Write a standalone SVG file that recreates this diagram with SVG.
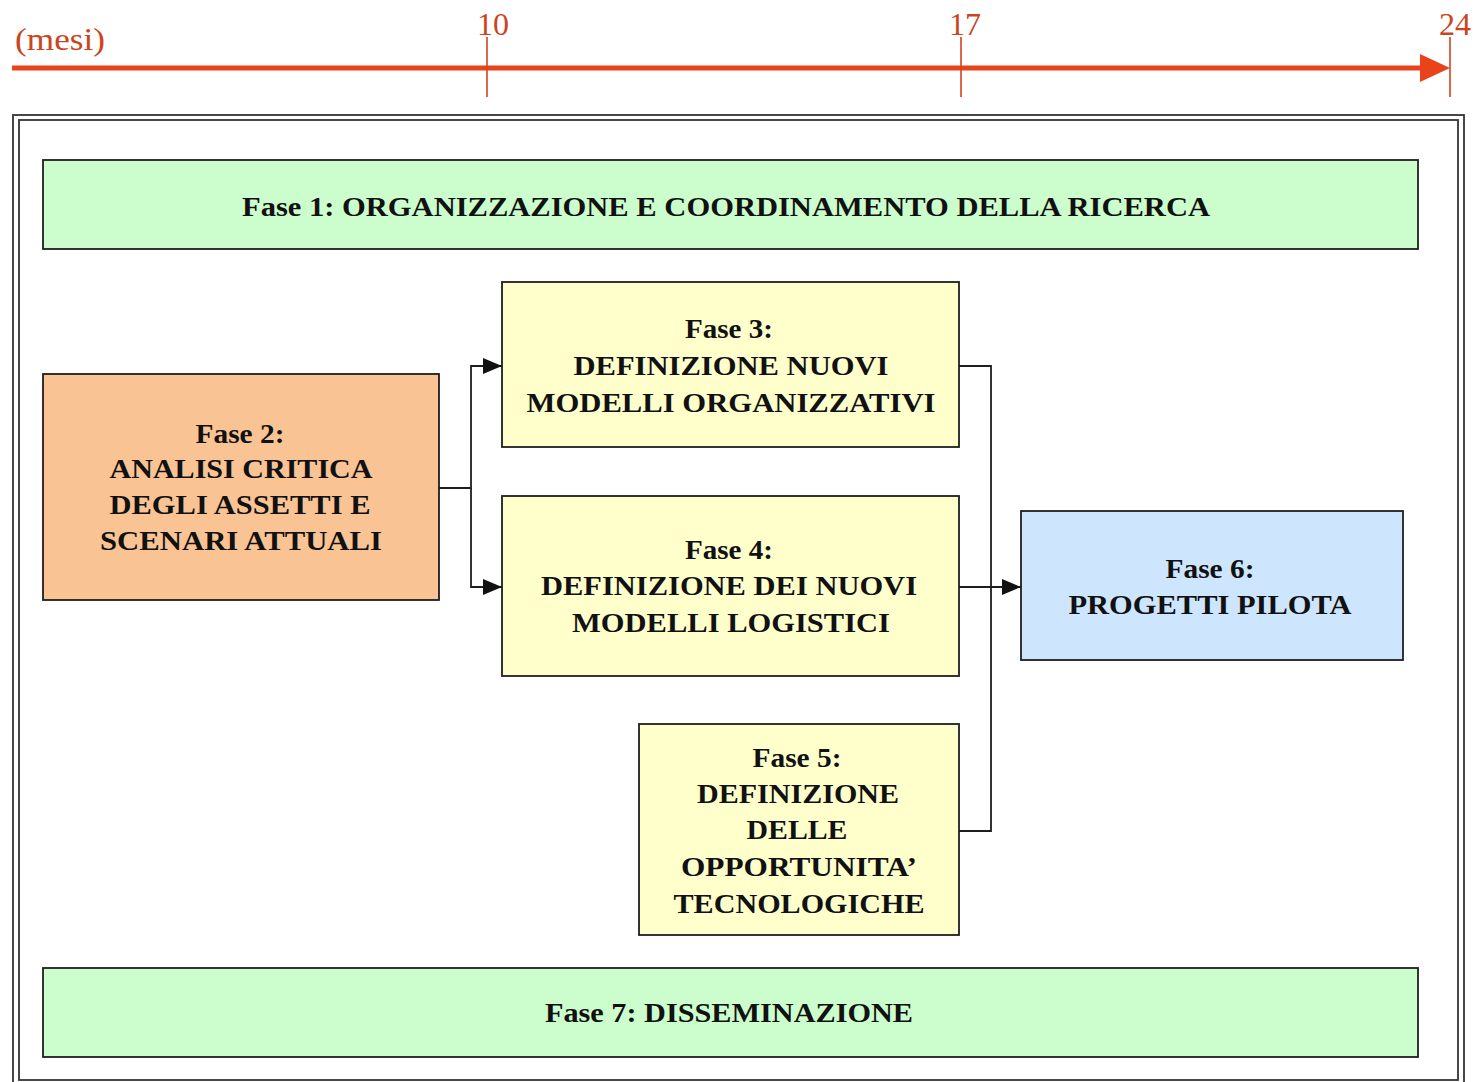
<svg xmlns="http://www.w3.org/2000/svg" width="1475" height="1082" viewBox="0 0 1475 1082">
<style>
.box{stroke:#1e1e1e;stroke-width:1.8}
.t{font-family:"Liberation Serif","Times New Roman",serif;font-weight:bold;font-size:27px;fill:#111;text-anchor:middle}
.tl{font-family:"Liberation Serif","Times New Roman",serif;font-size:32px;fill:#cc431d}
.tick{stroke:#d2441c;stroke-width:1.6}
.conn{stroke:#1e1e1e;stroke-width:1.8;fill:none}
</style>
<defs>
<marker id="ah" markerWidth="19" markerHeight="16" refX="19" refY="8" orient="auto" markerUnits="userSpaceOnUse">
<path d="M0,0 L19,8 L0,16 Z" fill="#111"/>
</marker>
</defs>
<rect width="1475" height="1082" fill="#ffffff"/>
<g id="timeline">
<line x1="12" y1="68" x2="1422" y2="68" stroke="#e8431a" stroke-width="5"/>
<path d="M1420,54 L1450,68 L1420,82 Z" fill="#e8431a"/>
<line class="tick" x1="487" y1="37" x2="487" y2="97"/>
<line class="tick" x1="961" y1="37" x2="961" y2="97"/>
<line class="tick" x1="1450" y1="37" x2="1450" y2="97"/>
<text class="tl" x="15" y="50" font-size="34" textLength="90" lengthAdjust="spacingAndGlyphs">(mesi)</text>
<text class="tl" x="493" y="35" text-anchor="middle">10</text>
<text class="tl" x="965" y="35" text-anchor="middle">17</text>
<text class="tl" x="1455" y="35" text-anchor="middle">24</text>
</g>
<g id="frame" fill="none" stroke="#333" stroke-width="1.8">
<rect x="13" y="115" width="1451" height="975"/>
<rect x="19" y="120" width="1439" height="960"/>
</g>
<g id="connectors">
<path class="conn" d="M439,488 H471 V366 H502" marker-end="url(#ah)"/>
<path class="conn" d="M471,488 V587 H502" marker-end="url(#ah)"/>
<path class="conn" d="M959,366 H991 V831 H959"/>
<path class="conn" d="M959,587 H1021" marker-end="url(#ah)"/>
</g>
<g id="fase1">
<rect class="box" x="43" y="160" width="1375" height="89" fill="#ccfdcc"/>
<text class="t" x="726" y="216" textLength="968" lengthAdjust="spacingAndGlyphs">Fase 1: ORGANIZZAZIONE E COORDINAMENTO DELLA RICERCA</text>
</g>
<g id="fase2">
<rect class="box" x="43" y="374" width="396" height="226" fill="#fac394"/>
<text class="t" x="240" y="443" textLength="89" lengthAdjust="spacingAndGlyphs">Fase 2:</text>
<text class="t" x="241" y="478" textLength="263" lengthAdjust="spacingAndGlyphs">ANALISI CRITICA</text>
<text class="t" x="240" y="514" textLength="261" lengthAdjust="spacingAndGlyphs">DEGLI ASSETTI E</text>
<text class="t" x="241" y="550" textLength="282" lengthAdjust="spacingAndGlyphs">SCENARI ATTUALI</text>
</g>
<g id="fase3">
<rect class="box" x="502" y="282" width="457" height="165" fill="#ffffcc"/>
<text class="t" x="729" y="338" textLength="88" lengthAdjust="spacingAndGlyphs">Fase 3:</text>
<text class="t" x="731" y="375" textLength="315" lengthAdjust="spacingAndGlyphs">DEFINIZIONE NUOVI</text>
<text class="t" x="731" y="412" textLength="409" lengthAdjust="spacingAndGlyphs">MODELLI ORGANIZZATIVI</text>
</g>
<g id="fase4">
<rect class="box" x="502" y="496" width="457" height="180" fill="#ffffcc"/>
<text class="t" x="729" y="559" textLength="88" lengthAdjust="spacingAndGlyphs">Fase 4:</text>
<text class="t" x="729" y="595" textLength="376" lengthAdjust="spacingAndGlyphs">DEFINIZIONE DEI NUOVI</text>
<text class="t" x="731" y="632" textLength="318" lengthAdjust="spacingAndGlyphs">MODELLI LOGISTICI</text>
</g>
<g id="fase5">
<rect class="box" x="639" y="724" width="320" height="211" fill="#ffffcc"/>
<text class="t" x="797" y="767" textLength="89" lengthAdjust="spacingAndGlyphs">Fase 5:</text>
<text class="t" x="798" y="803" textLength="202" lengthAdjust="spacingAndGlyphs">DEFINIZIONE</text>
<text class="t" x="797" y="839" textLength="101" lengthAdjust="spacingAndGlyphs">DELLE</text>
<text class="t" x="799" y="876" textLength="236" lengthAdjust="spacingAndGlyphs">OPPORTUNITA’</text>
<text class="t" x="799" y="913" textLength="251" lengthAdjust="spacingAndGlyphs">TECNOLOGICHE</text>
</g>
<g id="fase6">
<rect class="box" x="1021" y="511" width="382" height="149" fill="#cde5fd"/>
<text class="t" x="1210" y="578" textLength="89" lengthAdjust="spacingAndGlyphs">Fase 6:</text>
<text class="t" x="1210" y="614" textLength="283" lengthAdjust="spacingAndGlyphs">PROGETTI PILOTA</text>
</g>
<g id="fase7">
<rect class="box" x="43" y="968" width="1375" height="89" fill="#ccfdcc"/>
<text class="t" x="729" y="1022" textLength="368" lengthAdjust="spacingAndGlyphs">Fase 7: DISSEMINAZIONE</text>
</g>
</svg>
